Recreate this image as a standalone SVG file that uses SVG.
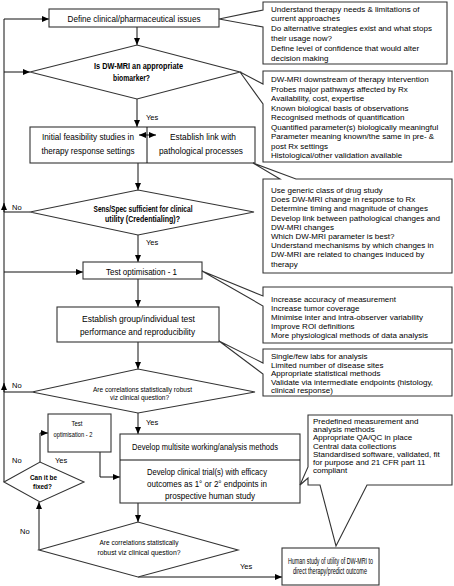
<svg xmlns="http://www.w3.org/2000/svg" width="454" height="586" viewBox="0 0 454 586">
<style>
text{font-family:"Liberation Sans",Arial,sans-serif;fill:#000}
.bx{font-size:9.5px;text-anchor:middle}
.co{font-size:8px}
.dm{font-size:8.5px;font-weight:bold;text-anchor:middle}
.dn{font-size:7.5px;text-anchor:middle}
.lb{font-size:7.5px}
.shape{fill:#fff;stroke:#333;stroke-width:1.1}
.con{fill:none;stroke:#111;stroke-width:1}
</style>
<defs>
<marker id="ah" viewBox="0 0 7 6" refX="7" refY="3" markerWidth="7" markerHeight="6" markerUnits="userSpaceOnUse" orient="auto-start-reverse"><path d="M0,0 L7,3 L0,6 z" fill="#000"/></marker>
</defs>
<rect width="454" height="586" fill="#fff"/>

<g id="connectors">
<path class="con" d="M4,482 V19 H49" marker-end="url(#ah)"/>
<path class="con" d="M4,72 H30" marker-end="url(#ah)"/>
<path class="con" d="M4,272 H83" marker-end="url(#ah)"/>
<path class="con" d="M30,212 H4"/>
<path class="con" d="M4,212 V203" marker-end="url(#ah)"/>
<path class="con" d="M32,392 H4"/>
<path class="con" d="M4,392 V383" marker-end="url(#ah)"/>
<path class="con" d="M137,27 V45" marker-end="url(#ah)"/>
<path class="con" d="M137,99 V127" marker-end="url(#ah)"/>
<path class="con" d="M139,135 H156" marker-start="url(#ah)" marker-end="url(#ah)"/>
<path class="con" d="M138,163 V190" marker-end="url(#ah)"/>
<path class="con" d="M138,235 V262" marker-end="url(#ah)"/>
<path class="con" d="M138,279 V307" marker-end="url(#ah)"/>
<path class="con" d="M138,342 V369" marker-end="url(#ah)"/>
<path class="con" d="M138,413 V434" marker-end="url(#ah)"/>
<path class="con" d="M40,462 V433 H48" marker-end="url(#ah)"/>
<path class="con" d="M100,452 V477 H120" marker-end="url(#ah)"/>
<path class="con" d="M138,503 V522" marker-end="url(#ah)"/>
<path class="con" d="M39,550 V502" marker-end="url(#ah)"/>
<path class="con" d="M138,577 H282" marker-end="url(#ah)"/>
</g>

<g id="define">
<rect class="shape" x="49" y="9" width="170" height="18"/>
<text class="bx" x="134" y="22.3" textLength="133" lengthAdjust="spacingAndGlyphs">Define clinical/pharmaceutical issues</text>
</g>

<g id="callout1">
<path class="shape" d="M263,2 H447 V64 H263 V27 L219,19 L263,10 Z"/>
<text class="co" x="271" y="11.5">Understand therapy needs &amp; limitations of</text>
<text class="co" x="271" y="21.3">current approaches</text>
<text class="co" x="271" y="31.1">Do alternative strategies exist and what stops</text>
<text class="co" x="271" y="40.9">their usage now?</text>
<text class="co" x="271" y="50.7">Define level of confidence that would alter</text>
<text class="co" x="271" y="60.5">decision making</text>
</g>

<g id="diamond1">
<polygon class="shape" points="30,72 137,45 240,72 137,99"/>
<text class="dm" x="138.5" y="68.5" textLength="89" lengthAdjust="spacingAndGlyphs">Is DW-MRI an appropriate</text>
<text class="dm" x="131.5" y="80.5" textLength="37" lengthAdjust="spacingAndGlyphs">biomarker?</text>
<text class="lb" x="146" y="120">Yes</text>
</g>

<g id="callout2">
<path class="shape" d="M263,71 H452 V162 H263 V104 L240,72 L263,84 Z"/>
<text class="co" x="271" y="82">DW-MRI downstream of therapy intervention</text>
<text class="co" x="271" y="91.5">Probes major pathways affected by Rx</text>
<text class="co" x="271" y="101">Availability, cost, expertise</text>
<text class="co" x="271" y="110.5">Known biological basis of observations</text>
<text class="co" x="271" y="120">Recognised methods of quantification</text>
<text class="co" x="271" y="129.5">Quantified parameter(s) biologically meaningful</text>
<text class="co" x="271" y="139">Parameter meaning known/the same in pre- &amp;</text>
<text class="co" x="271" y="148.5">post Rx settings</text>
<text class="co" x="271" y="158">Histological/other validation available</text>
</g>

<g id="feasibility">
<rect class="shape" x="30" y="127" width="225" height="36"/>
<line class="con" x1="147" y1="127" x2="147" y2="163"/>
<path class="con" d="M139,135 H156" marker-start="url(#ah)" marker-end="url(#ah)"/>
<text class="bx" x="88" y="139.5" textLength="92" lengthAdjust="spacingAndGlyphs">Initial feasibility studies in</text>
<text class="bx" x="88" y="153.5" textLength="93" lengthAdjust="spacingAndGlyphs">therapy response settings</text>
<text class="bx" x="203" y="139.5" textLength="66" lengthAdjust="spacingAndGlyphs">Establish link with</text>
<text class="bx" x="201" y="153.5" textLength="84" lengthAdjust="spacingAndGlyphs">pathological processes</text>
</g>

<g id="callout3">
<path class="shape" d="M263,179 H280 L253,163 L296,179 H452 V273 H263 Z"/>
<text class="co" x="271" y="193">Use generic class of drug study</text>
<text class="co" x="271" y="202.2">Does DW-MRI change in response to Rx</text>
<text class="co" x="271" y="211.4">Determine timing and magnitude of changes</text>
<text class="co" x="271" y="220.6">Develop link between pathological changes and</text>
<text class="co" x="271" y="229.8">DW-MRI changes</text>
<text class="co" x="271" y="239">Which DW-MRI parameter is best?</text>
<text class="co" x="271" y="248.2">Understand mechanisms by which changes in</text>
<text class="co" x="271" y="257.4">DW-MRI are related to changes induced by</text>
<text class="co" x="271" y="266.6">therapy</text>
</g>

<g id="diamond2">
<polygon class="shape" points="30,212 138,190 254,212 138,235"/>
<text class="dm" x="143" y="212" textLength="99" lengthAdjust="spacingAndGlyphs">Sens/Spec sufficient for clinical</text>
<text class="dm" x="142.5" y="222" textLength="75" lengthAdjust="spacingAndGlyphs">utility (Credentialing)?</text>
<text class="lb" x="12" y="209.5">No</text>
<text class="lb" x="146" y="245">Yes</text>
</g>

<g id="testopt1">
<rect class="shape" x="83" y="262" width="119" height="17"/>
<text class="bx" x="141.5" y="274.5" textLength="71" lengthAdjust="spacingAndGlyphs">Test optimisation - 1</text>
</g>

<g id="callout4">
<path class="shape" d="M263,287 H452 V343 H263 V306 L202,271 L263,296 Z"/>
<text class="co" x="271" y="302">Increase accuracy of measurement</text>
<text class="co" x="271" y="311">Increase tumor coverage</text>
<text class="co" x="271" y="320">Minimise inter and intra-observer variability</text>
<text class="co" x="271" y="329">Improve ROI definitions</text>
<text class="co" x="271" y="338">More physiological methods of data analysis</text>
</g>

<g id="establish">
<rect class="shape" x="57" y="307" width="162" height="35"/>
<text class="bx" x="138.5" y="321.5" textLength="113" lengthAdjust="spacingAndGlyphs">Establish group/individual test</text>
<text class="bx" x="137.5" y="334.5" textLength="115" lengthAdjust="spacingAndGlyphs">performance and reproducibility</text>
</g>

<g id="callout5">
<path class="shape" d="M263,349 H452 V396 H263 V374 L219,341 L263,363 Z"/>
<text class="co" x="271" y="359">Single/few labs for analysis</text>
<text class="co" x="271" y="367.5">Limited number of disease sites</text>
<text class="co" x="271" y="376">Appropriate statistical methods</text>
<text class="co" x="271" y="384.5">Validate via intermediate endpoints (histology,</text>
<text class="co" x="271" y="393">clinical response)</text>
</g>

<g id="diamond3">
<polygon class="shape" points="32,392 138,369 255,392 138,413"/>
<text class="dn" x="142.5" y="391.5" textLength="99" lengthAdjust="spacingAndGlyphs">Are correlations statistically robust</text>
<text class="dn" x="139.5" y="399.5" textLength="59" lengthAdjust="spacingAndGlyphs">viz clinical question?</text>
<text class="lb" x="12" y="387.5">No</text>
<text class="lb" x="146" y="425">Yes</text>
</g>

<g id="testopt2">
<rect class="shape" x="48" y="414" width="63" height="38"/>
<text class="dn" x="77" y="426" textLength="11" lengthAdjust="spacingAndGlyphs">Test</text>
<text class="dn" x="73" y="437" textLength="39" lengthAdjust="spacingAndGlyphs">optimisation - 2</text>
</g>

<g id="diamond4">
<polygon class="shape" points="4,482 40,462 84,482 40,502"/>
<text class="dm" x="43.5" y="479.5" font-size="7.5" style="font-size:7.5px" textLength="27" lengthAdjust="spacingAndGlyphs">Can it be</text>
<text class="dm" x="42.5" y="489" style="font-size:7.5px" textLength="19" lengthAdjust="spacingAndGlyphs">fixed?</text>
<text class="lb" x="12" y="462.5">No</text>
<text class="lb" x="55" y="462.5">Yes</text>
</g>

<g id="develop">
<rect class="shape" x="120" y="434" width="180" height="69"/>
<line class="con" x1="120" y1="460" x2="300" y2="460"/>
<text class="bx" x="205" y="450" textLength="146" lengthAdjust="spacingAndGlyphs">Develop multisite working/analysis methods</text>
<text class="bx" x="207" y="474.5" textLength="120" lengthAdjust="spacingAndGlyphs">Develop clinical trial(s) with efficacy</text>
<text class="bx" x="207" y="486.5" textLength="120" lengthAdjust="spacingAndGlyphs">outcomes as 1° or 2°  endpoints in</text>
<text class="bx" x="210" y="498.5" textLength="90" lengthAdjust="spacingAndGlyphs">prospective human study</text>
</g>

<g id="callout6">
<path class="shape" d="M308,415 H452 V485 H367 L336,546 L320,485 H308 V478 L300,485 L308,467 Z"/>
<text class="co" x="313" y="424">Predefined measurement and</text>
<text class="co" x="313" y="432.2">analysis methods</text>
<text class="co" x="313" y="440.4">Appropriate QA/QC in place</text>
<text class="co" x="313" y="448.6">Central data collections</text>
<text class="co" x="313" y="456.8">Standardised software, validated, fit</text>
<text class="co" x="313" y="465">for purpose and 21 CFR part 11</text>
<text class="co" x="313" y="473.2">compliant</text>
</g>

<g id="diamond5">
<polygon class="shape" points="39,550 138,522 238,550 138,577"/>
<text class="dn" x="139" y="544.5" textLength="79" lengthAdjust="spacingAndGlyphs">Are correlations statistically</text>
<text class="dn" x="139" y="554.5" textLength="83" lengthAdjust="spacingAndGlyphs">robust viz clinical question?</text>
<text class="lb" x="20" y="534">No</text>
<text class="lb" x="240" y="569">Yes</text>
</g>

<g id="human">
<rect class="shape" x="282" y="548" width="97" height="37"/>
<text class="bx" x="330.5" y="563.5" style="font-size:8.5px" textLength="85" lengthAdjust="spacingAndGlyphs">Human study of utility of DW-MRI to</text>
<text class="bx" x="330" y="574" style="font-size:8.5px" textLength="74" lengthAdjust="spacingAndGlyphs">direct therapy/predict outcome</text>
</g>
</svg>
